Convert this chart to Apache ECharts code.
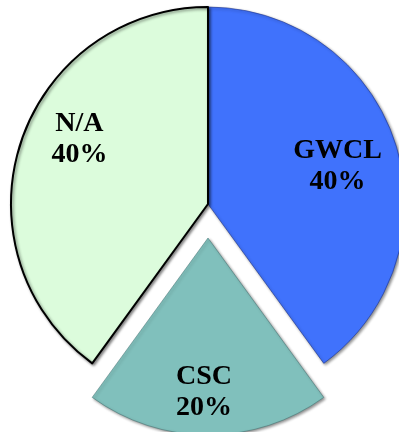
<!DOCTYPE html>
<html>
<head>
<meta charset="utf-8">
<script src="https://cdn.jsdelivr.net/npm/echarts@6/dist/echarts.min.js"></script>
<style>
  html, body { margin: 0; padding: 0; background: #ffffff; }
  #chart { width: 399px; height: 432px; }
</style>
</head>
<body>
<div id="chart"></div>
<script>
// Share of responses by organisation
const categories = ['GWCL', 'CSC', 'N/A'];
const shares = [40, 20, 40];
const colors = ['#4072fc', '#80c0bc', '#dcfcdc'];
const borders = ['rgba(25,45,130,0.55)', 'rgba(60,110,110,0.5)', '#000000'];
const borderWidths = [1, 1, 2];
// label nudges away from the default inside anchor
const labelShift = [[33, -6], [-4, 53], [-32, -33]];

const chart = echarts.init(document.getElementById('chart'), null, { renderer: 'canvas' });

const data = categories.map((name, i) => ({
  name: name,
  value: shares[i],
  selected: name === 'CSC',
  itemStyle: {
    color: colors[i],
    borderColor: borders[i],
    borderWidth: borderWidths[i]
  }
}));

chart.setOption({
  animation: false,
  series: [{
    type: 'pie',
    center: [208, 204],
    radius: [0, 197],
    startAngle: 90,
    clockwise: true,
    selectedMode: 'single',
    selectedOffset: 34,
    avoidLabelOverlap: false,
    emphasis: { disabled: true },
    itemStyle: {
      shadowColor: 'rgba(0,0,0,0.45)',
      shadowBlur: 3,
      shadowOffsetX: 1.5,
      shadowOffsetY: 1.5
    },
    label: {
      show: true,
      position: 'inside',
      formatter: p => p.name + '\n' + p.value + '%',
      fontFamily: '"Liberation Serif", "DejaVu Serif", serif',
      fontWeight: 'bold',
      fontSize: 28,
      lineHeight: 31,
      color: '#000000',
      align: 'center'
    },
    labelLine: { show: false },
    labelLayout: p => ({ dx: labelShift[p.dataIndex][0], dy: labelShift[p.dataIndex][1] }),
    data: data
  }]
});
</script>
</body>
</html>
